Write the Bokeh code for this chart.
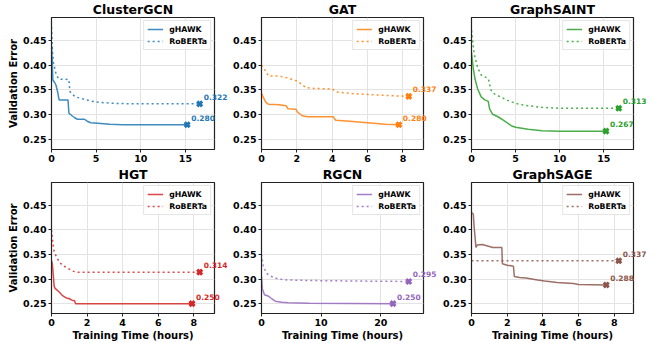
from bokeh.plotting import figure
from bokeh.layouts import row, column
from bokeh.models import Range1d, FixedTicker, NumeralTickFormatter
from bokeh.core.properties import value
from bokeh.embed import file_html
from bokeh.resources import INLINE

FONT = "DejaVu Sans"

MODELS = ["ClusterGCN", "GAT", "GraphSAINT", "HGT", "RGCN", "GraphSAGE"]
COLORS = ["#1f77b4", "#ff7f0e", "#2ca02c", "#d62728", "#9467bd", "#8c564b"]
SERIES = ["gHAWK", "RoBERTa"]
Y_TICKS = [0.25, 0.30, 0.35, 0.40, 0.45]

CLUSTERGCN_XTICKS = [0, 5, 10, 15]
GAT_XTICKS = [0, 2, 4, 6, 8]
GRAPHSAINT_XTICKS = [0, 5, 10, 15]
HGT_XTICKS = [0, 2, 4, 6, 8]
RGCN_XTICKS = [0, 10, 20]
GRAPHSAGE_XTICKS = [0, 2, 4, 6, 8]

# ClusterGCN
CLUSTERGCN_GHAWK_X = [0.0, 0.08, 0.15, 0.35, 0.5, 0.7, 0.85, 1.85, 1.95, 2.3, 2.6, 2.9, 3.7, 4.0, 4.4, 5.2, 6.5, 8.0, 15.2]
CLUSTERGCN_GHAWK_Y = [0.44, 0.41, 0.37, 0.365, 0.36, 0.345, 0.33, 0.33, 0.303, 0.298, 0.294, 0.291, 0.291, 0.287, 0.284, 0.283, 0.281, 0.280, 0.280]
CLUSTERGCN_ROBERTA_X = [0.0, 0.1, 0.22, 0.5, 0.8, 1.95, 2.05, 2.4, 2.7, 3.5, 4.3, 5.3, 7.1, 9.0, 16.6]
CLUSTERGCN_ROBERTA_Y = [0.477, 0.43, 0.405, 0.383, 0.372, 0.371, 0.347, 0.340, 0.336, 0.332, 0.328, 0.325, 0.323, 0.322, 0.322]

# GAT
GAT_GHAWK_X = [0.0, 0.1, 0.25, 0.4, 1.0, 1.4, 1.5, 1.95, 2.05, 2.3, 2.6, 4.05, 4.2, 5.0, 6.0, 7.0, 7.77]
GAT_GHAWK_Y = [0.343, 0.335, 0.325, 0.321, 0.320, 0.318, 0.312, 0.311, 0.305, 0.298, 0.296, 0.296, 0.289, 0.287, 0.284, 0.281, 0.280]
GAT_ROBERTA_X = [0.0, 0.2, 0.4, 1.0, 1.5, 2.0, 2.3, 2.5, 3.0, 4.0, 4.25, 5.0, 6.0, 7.0, 8.33]
GAT_ROBERTA_Y = [0.400, 0.390, 0.378, 0.378, 0.374, 0.368, 0.361, 0.355, 0.353, 0.352, 0.346, 0.343, 0.341, 0.339, 0.337]

# GraphSAINT
GRAPHSAINT_GHAWK_X = [0.0, 0.2, 0.4, 0.7, 1.1, 1.5, 1.9, 2.05, 2.4, 3.0, 3.6, 4.1, 4.5, 5.0, 6.4, 8.0, 10.0, 15.25]
GRAPHSAINT_GHAWK_Y = [0.426, 0.393, 0.372, 0.352, 0.336, 0.330, 0.327, 0.312, 0.301, 0.296, 0.289, 0.283, 0.278, 0.275, 0.271, 0.268, 0.267, 0.267]
GRAPHSAINT_ROBERTA_X = [0.0, 0.3, 0.7, 1.1, 1.9, 2.2, 2.6, 3.4, 4.1, 5.0, 6.0, 8.0, 10.0, 16.7]
GRAPHSAINT_ROBERTA_Y = [0.470, 0.423, 0.395, 0.380, 0.373, 0.350, 0.342, 0.335, 0.329, 0.323, 0.319, 0.315, 0.313, 0.313]

# HGT
HGT_GHAWK_X = [0.0, 0.05, 0.15, 0.2, 0.3, 0.45, 0.6, 0.8, 1.0, 1.15, 1.3, 1.35, 7.9]
HGT_GHAWK_Y = [0.338, 0.330, 0.285, 0.281, 0.278, 0.273, 0.267, 0.262, 0.260, 0.257, 0.256, 0.250, 0.250]
HGT_ROBERTA_X = [0.0, 0.08, 0.15, 0.28, 0.45, 0.65, 0.95, 1.2, 1.4, 8.33]
HGT_ROBERTA_Y = [0.400, 0.372, 0.355, 0.345, 0.334, 0.327, 0.321, 0.316, 0.314, 0.314]

# RGCN
RGCN_GHAWK_X = [0.0, 0.15, 0.5, 1.2, 1.7, 2.3, 3.4, 4.5, 8.0, 22.05]
RGCN_GHAWK_Y = [0.305, 0.280, 0.268, 0.265, 0.260, 0.255, 0.253, 0.252, 0.251, 0.250]
RGCN_ROBERTA_X = [0.0, 0.3, 0.9, 1.7, 2.8, 4.5, 8.0, 15.0, 24.7]
RGCN_ROBERTA_Y = [0.350, 0.325, 0.311, 0.305, 0.300, 0.298, 0.297, 0.296, 0.295]

# GraphSAGE
GRAPHSAGE_GHAWK_X = [0.0, 0.1, 0.15, 0.25, 0.32, 0.6, 0.8, 1.0, 1.2, 1.7, 1.73, 2.0, 2.35, 2.4, 2.7, 3.05, 3.7, 4.1, 4.8, 5.7, 6.0, 7.55]
GRAPHSAGE_GHAWK_Y = [0.435, 0.432, 0.405, 0.364, 0.369, 0.370, 0.368, 0.366, 0.364, 0.364, 0.331, 0.328, 0.326, 0.305, 0.303, 0.302, 0.298, 0.296, 0.293, 0.291, 0.289, 0.288]
GRAPHSAGE_ROBERTA_X = [0.0, 8.25]
GRAPHSAGE_ROBERTA_Y = [0.337, 0.337]

PANELS = [
    (CLUSTERGCN_GHAWK_X, CLUSTERGCN_GHAWK_Y, CLUSTERGCN_ROBERTA_X, CLUSTERGCN_ROBERTA_Y, CLUSTERGCN_XTICKS),
    (GAT_GHAWK_X, GAT_GHAWK_Y, GAT_ROBERTA_X, GAT_ROBERTA_Y, GAT_XTICKS),
    (GRAPHSAINT_GHAWK_X, GRAPHSAINT_GHAWK_Y, GRAPHSAINT_ROBERTA_X, GRAPHSAINT_ROBERTA_Y, GRAPHSAINT_XTICKS),
    (HGT_GHAWK_X, HGT_GHAWK_Y, HGT_ROBERTA_X, HGT_ROBERTA_Y, HGT_XTICKS),
    (RGCN_GHAWK_X, RGCN_GHAWK_Y, RGCN_ROBERTA_X, RGCN_ROBERTA_Y, RGCN_XTICKS),
    (GRAPHSAGE_GHAWK_X, GRAPHSAGE_GHAWK_Y, GRAPHSAGE_ROBERTA_X, GRAPHSAGE_ROBERTA_Y, GRAPHSAGE_XTICKS),
]

# layout geometry (px)
COL_W = [230, 210, 215]
COL_BL = [51, 30, 29]
COL_BR = [16, 17, 22]
ROW_H = [166, 177]
ROW_BT = [17, 16]
ROW_BB = [17, 29]
Y_LO, Y_HI = 0.23, 0.496


def make_panel(i):
    gx, gy, rx, ry, xticks = PANELS[i]
    c, r = i % 3, i // 3
    color = COLORS[i]
    xmax = max(gx[-1], rx[-1]) * 1.1
    p = figure(width=COL_W[c], height=ROW_H[r], title=None,
               x_range=Range1d(0, xmax), y_range=Range1d(Y_LO, Y_HI),
               output_backend="svg", toolbar_location=None,
               min_border_left=COL_BL[c], min_border_right=COL_BR[c],
               min_border_top=ROW_BT[r], min_border_bottom=ROW_BB[r])
    p.background_fill_color = "white"
    p.border_fill_color = "white"
    p.outline_line_color = "#222222"
    p.outline_line_width = 1.2

    # panel title, drawn just above the frame
    p.text(x=[xmax / 2], y=[Y_HI], text=[MODELS[i]], y_offset=-1,
           text_align="center", text_baseline="bottom", text_color="black",
           text_font=value(FONT), text_font_style="bold", text_font_size="12.5px",
           level="overlay")

    p.line(gx, gy, color=color, line_width=1.5, line_alpha=0.85, legend_label=SERIES[0])
    p.line(rx, ry, color=color, line_width=1.5, line_alpha=0.85, line_dash="2 3", legend_label=SERIES[1])
    p.scatter([gx[-1], rx[-1]], [gy[-1], ry[-1]], marker="x", size=7, line_width=3, color=color)

    ex = [gx[-1], rx[-1]]
    ey = [gy[-1], ry[-1]]
    p.text(x=ex, y=ey, text=[f"{v:.3f}" for v in ey], x_offset=4, y_offset=-7,
           text_align="left", text_baseline="middle", text_color=color,
           text_font=value(FONT), text_font_style="bold", text_font_size="7.5px",
           level="overlay")

    for ax in (p.xaxis[0], p.yaxis[0]):
        ax.major_label_text_font = FONT
        ax.major_label_text_font_style = "bold"
        ax.major_label_text_font_size = "9.5px"
        ax.major_label_text_color = "black"
        ax.major_label_standoff = 2
        ax.major_tick_out = 3
        ax.major_tick_in = 0
        ax.minor_tick_out = 0
        ax.minor_tick_in = 0
        ax.axis_line_color = "#222222"
        ax.major_tick_line_color = "#222222"
        ax.axis_label_text_font = FONT
        ax.axis_label_text_font_style = "bold"
        ax.axis_label_text_font_size = "10px"
        ax.axis_label_text_color = "black"
        ax.axis_label_standoff = 1
    p.xaxis.ticker = FixedTicker(ticks=xticks)
    p.yaxis.ticker = FixedTicker(ticks=Y_TICKS)
    p.yaxis.formatter = NumeralTickFormatter(format="0.00")
    if c == 0:
        p.yaxis.axis_label = "Validation Error"
    if r == 1:
        p.xaxis.axis_label = "Training Time (hours)"

    p.xgrid.grid_line_color = "#e3e3e3"
    p.ygrid.grid_line_color = "#e3e3e3"

    lg = p.legend[0]
    lg.location = "top_right"
    lg.margin = 3
    lg.padding = 3
    lg.spacing = 2
    lg.label_height = 10
    lg.glyph_height = 10
    lg.glyph_width = 16
    lg.label_standoff = 6
    lg.label_text_font = FONT
    lg.label_text_font_style = "bold"
    lg.label_text_font_size = "7.8px"
    lg.label_text_color = "black"
    lg.border_line_color = "#cccccc"
    lg.border_line_width = 1
    lg.background_fill_color = "white"
    lg.background_fill_alpha = 0.85
    return p


figs = [make_panel(i) for i in range(6)]
layout = column(row(*figs[:3], spacing=0), row(*figs[3:], spacing=0), spacing=0)

open("out.html", "w").write(file_html(layout, INLINE))
